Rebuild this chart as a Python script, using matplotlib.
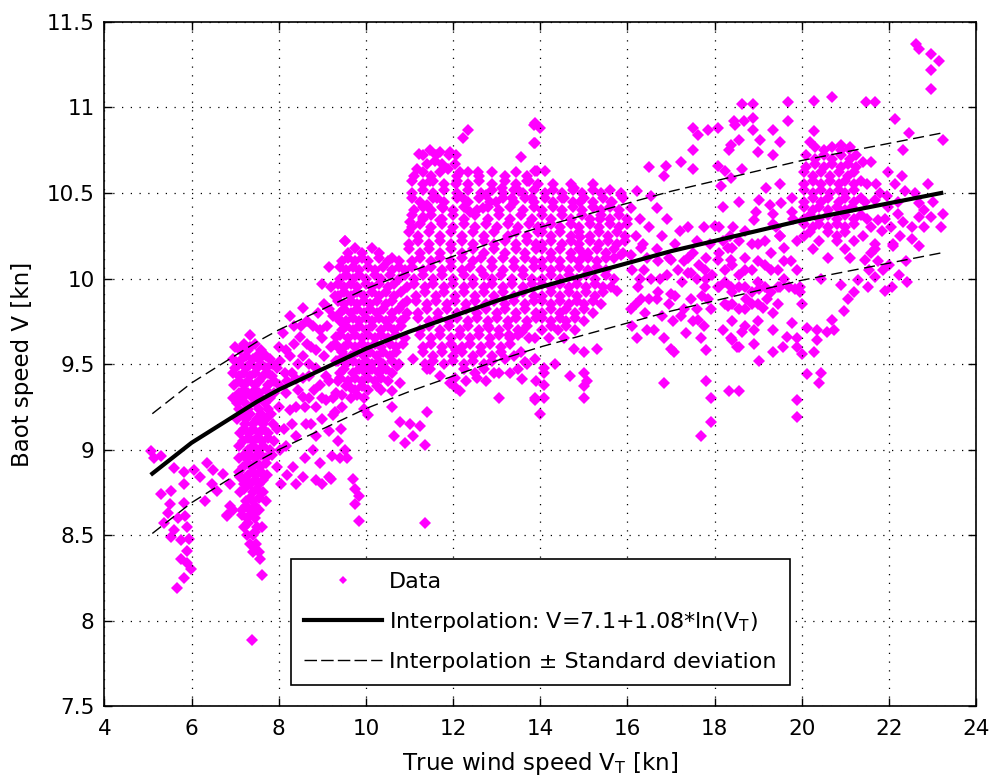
import matplotlib
matplotlib.use('Agg')
import matplotlib.pyplot as plt
from matplotlib.lines import Line2D

plt.rcParams['font.family'] = ['DejaVu Sans']
plt.rcParams['mathtext.fontset'] = 'dejavusans'

# ---------------- data ----------------
pts_low_wind = [
    (5.07, 8.99), (5.15, 8.95), (5.3, 8.96), (5.6, 8.89), (5.83, 8.87), (5.83, 8.80), (5.3, 8.74),
    (5.52, 8.76), (5.45, 8.63), (5.37, 8.57), (5.6, 8.53), (5.75, 8.47), (5.9, 8.41), (5.9, 8.34),
    (5.98, 8.30), (5.83, 8.25), (5.67, 8.19), (5.9, 8.55), (5.83, 8.69), (5.86, 8.61), (5.52, 8.49),
    (5.7, 8.6), (5.5, 8.68), (5.95, 8.48), (5.75, 8.36), (6.36, 8.92), (6.2, 8.84), (6.47, 8.80),
    (6.5, 8.88), (6.73, 8.86), (6.89, 8.80), (6.58, 8.76), (6.89, 8.67), (6.81, 8.61), (7.11, 8.84),
    (6.05, 8.88), (6.3, 8.7), (6.96, 8.65), (6.81, 8.62),
]
rows_7kn = [
    (9.67, [7.34]), (9.62, [7.2, 7.45]), (9.58, [7.11, 7.3, 7.6]),
    (9.53, [6.95, 7.15, 7.4, 7.55, 7.8]), (9.48, [7.0, 7.25, 7.5, 7.7, 7.95]),
    (9.43, [7.1, 7.34, 7.64, 7.85]), (9.38, [6.98, 7.2, 7.45, 7.75, 8.0]),
    (9.33, [7.08, 7.3, 7.55, 7.9]), (9.27, [7.04, 7.22, 7.45, 7.68]),
    (9.21, [7.15, 7.35, 7.6, 7.82]), (9.15, [7.23, 7.42, 7.64, 7.87]),
    (9.10, [7.12, 7.32, 7.55, 7.75]), (9.05, [7.19, 7.4, 7.62, 7.9]),
    (9.00, [7.3, 7.5, 7.8, 8.02]), (8.95, [7.1, 7.24, 7.45, 7.7]),
    (8.90, [7.19, 7.38, 7.58, 7.95]), (8.85, [7.3, 7.49, 7.72]), (8.80, [7.2, 7.34, 7.55]),
    (8.75, [7.11, 7.4, 7.64]), (8.70, [7.25, 7.42, 7.7]), (8.65, [7.15, 7.35, 7.55]),
    (8.60, [7.28, 7.45]), (8.55, [7.2, 7.5, 7.62]), (8.50, [7.27, 7.4]), (8.45, [7.35, 7.49]),
    (8.40, [7.42, 7.55]), (8.36, [7.57]), (8.27, [7.61]), (7.89, [7.38]),
    (9.60, [7.0, 7.35]), (9.55, [7.25, 7.5, 7.7]), (9.50, [7.1, 7.35, 7.6, 7.85]),
    (9.45, [6.95, 7.2, 7.45, 7.75]), (9.40, [7.1, 7.3, 7.55, 7.9]), (9.35, [7.2, 7.45, 7.7]),
    (9.30, [6.95, 7.15, 7.4, 7.6, 7.8]), (9.24, [7.1, 7.3, 7.55, 7.75]),
    (9.18, [7.05, 7.25, 7.5, 7.7]), (9.12, [7.2, 7.42, 7.65, 7.95]), (9.07, [7.3, 7.5, 7.75]),
    (9.02, [7.1, 7.4, 7.65]), (8.97, [7.2, 7.35, 7.6, 7.85]), (8.92, [7.3, 7.5, 7.7]),
    (8.87, [7.1, 7.4, 7.6]), (8.82, [7.25, 7.45, 7.65]), (8.77, [7.2, 7.5]), (8.72, [7.35, 7.55]),
    (8.67, [7.25, 7.45]), (8.62, [7.15, 7.4]), (8.57, [7.3]), (8.52, [7.45]),
]
pts_8_9kn = [
    (8.4, 8.8), (8.55, 8.84), (8.86, 8.82), (9.0, 8.8), (9.16, 8.84), (8.78, 9.0), (8.86, 9.08),
    (8.33, 8.9), (8.17, 9.02), (8.4, 9.08), (8.63, 9.15), (8.25, 9.23), (8.55, 9.31), (8.86, 9.25),
    (9.08, 9.29), (9.31, 9.33), (8.4, 9.41), (8.7, 9.43), (9.08, 9.43), (8.17, 9.58), (8.48, 9.66),
    (8.78, 9.72), (9.16, 9.82), (9.0, 9.97), (9.16, 10.07), (8.55, 9.83), (8.25, 9.78), (8.86, 9.58),
    (9.31, 9.66), (9.31, 9.52), (8.7, 9.5), (9.16, 9.11), (9.23, 8.96), (8.17, 9.33), (8.02, 9.52),
    (8.1, 9.68), (8.3, 9.45), (8.55, 9.55), (8.95, 9.38), (9.2, 9.6), (8.35, 9.62), (8.65, 9.62),
    (9.0, 9.65), (8.9, 9.8), (9.3, 9.9), (9.1, 9.72), (8.45, 9.5), (8.8, 9.35), (9.0, 9.18),
    (9.25, 9.2), (8.6, 9.25), (8.3, 9.15), (8.0, 9.25), (8.12, 9.12), (8.5, 9.72), (9.4, 9.75),
    (9.4, 9.45), (8.75, 9.15), (9.35, 9.05), (8.95, 8.92), (8.6, 8.95), (8.2, 8.85), (8.05, 8.8),
    (9.4, 8.95), (9.25, 9.3), (9.3, 9.22), (9.35, 9.4), (9.45, 9.25), (9.5, 9.55),
    (8.15, 9.45), (8.45, 9.35), (8.75, 9.6), (9.05, 9.55), (8.35, 9.72), (8.65, 9.75), (8.95, 9.7),
    (9.25, 9.78), (8.25, 9.55), (8.55, 9.42), (8.85, 9.48), (9.15, 9.4), (9.35, 9.6), (9.2, 9.95),
    (9.05, 9.85), (8.4, 9.25), (8.7, 9.3), (9.0, 9.3), (8.2, 9.4), (8.0, 9.6),
]
rows_10kn = [
    (10.22, [9.51]), (10.15, [9.6, 9.9, 10.3]), (10.10, [9.45, 9.75, 10.05, 10.5, 10.75]),
    (10.05, [9.55, 9.85, 10.2, 10.6, 10.9]), (10.00, [9.4, 9.7, 10.0, 10.35, 10.75]),
    (9.95, [9.5, 9.8, 10.15, 10.5, 10.95]), (9.90, [9.35, 9.65, 9.95, 10.3, 10.65]),
    (9.85, [9.5, 9.8, 10.1, 10.45, 10.85]), (9.80, [9.4, 9.65, 9.95, 10.25, 10.6, 10.95]),
    (9.75, [9.55, 9.85, 10.15, 10.45, 10.8]), (9.70, [9.45, 9.7, 10.0, 10.35, 10.65]),
    (9.65, [9.6, 9.9, 10.2, 10.5, 10.9]), (9.60, [9.5, 9.75, 10.05, 10.35, 10.7]),
    (9.55, [9.65, 9.95, 10.25, 10.55]), (9.50, [9.55, 9.85, 10.15, 10.4, 10.75]),
    (9.45, [9.7, 10.0, 10.3, 10.6]), (9.40, [9.6, 9.9, 10.2, 10.5]),
    (9.35, [9.75, 10.05, 10.35]), (9.30, [9.65, 9.95]),
    (10.18, [9.75, 10.15]), (10.12, [9.6, 9.9, 10.3, 10.6]), (10.07, [9.4, 9.7, 10.05, 10.4, 10.75]),
    (10.02, [9.55, 9.85, 10.2, 10.55, 10.9]), (9.97, [9.35, 9.65, 10.0, 10.3, 10.65]),
    (9.92, [9.5, 9.8, 10.15, 10.45, 10.8]), (9.87, [9.35, 9.65, 9.95, 10.25, 10.6, 10.95]),
    (9.82, [9.5, 9.8, 10.1, 10.4, 10.75]), (9.77, [9.35, 9.7, 10.0, 10.3, 10.6, 10.9]),
    (9.72, [9.55, 9.85, 10.15, 10.5, 10.8]), (9.67, [9.4, 9.75, 10.05, 10.35, 10.7]),
    (9.62, [9.3, 9.6, 9.9, 10.2, 10.55, 10.85]), (9.57, [9.45, 9.8, 10.1, 10.4, 10.7]),
    (9.52, [9.35, 9.7, 10.0, 10.3, 10.6]), (9.47, [9.5, 9.85, 10.15, 10.45]),
    (9.42, [9.4, 9.75, 10.05, 10.35]), (9.37, [9.55, 9.9, 10.25]), (9.32, [9.45, 9.8]),
]
pts_10_14kn = [
    (9.53, 9.0), (9.57, 8.95), (9.2, 8.83), (9.7, 8.83), (9.74, 8.77), (9.85, 8.73), (9.74, 8.68),
    (9.85, 8.58), (11.36, 8.57), (9.43, 9.12), (9.96, 9.24), (10.04, 9.2), (10.6, 9.25),
    (10.64, 9.08), (10.79, 9.16), (11.02, 9.15), (11.25, 9.14), (11.4, 9.22), (11.09, 9.08),
    (10.9, 9.04), (11.36, 9.03), (10.6, 9.34), (10.79, 9.39), (10.34, 9.47), (9.66, 9.36),
    (9.96, 9.49), (10.72, 9.49), (11.09, 9.53), (11.47, 9.47), (11.7, 9.43), (12.07, 9.36),
    (12.15, 9.34), (11.92, 9.39), (12.07, 9.58), (13.06, 9.3), (13.06, 9.45), (13.2, 9.53),
    (13.59, 9.41), (13.66, 9.51), (13.89, 9.29), (12.83, 9.71), (13.28, 9.67), (13.58, 9.69),
    (13.89, 9.65),
    (12.34, 10.87), (12.23, 10.82), (13.85, 10.9), (13.85, 10.79), (11.21, 10.73), (11.47, 10.75),
    (11.7, 10.74), (11.92, 10.74), (12.07, 10.72), (11.58, 10.69), (11.17, 10.64), (11.88, 10.64),
    (12.15, 10.62), (12.57, 10.62), (13.55, 10.71), (13.89, 10.63), (11.47, 10.57), (11.62, 10.47),
    (11.4, 10.43), (11.77, 10.41), (12.07, 10.55), (12.23, 10.47), (12.75, 10.49), (13.13, 10.53),
    (13.51, 10.51), (13.74, 10.57), (11.02, 10.33), (9.51, 10.22), (11.32, 10.36), (11.7, 10.34),
    (12.38, 10.39), (12.68, 10.41), (12.98, 10.45), (13.36, 10.47), (13.81, 10.47),
]
rows_12kn = [
    (10.60, [11.1, 11.5, 12.1, 12.6, 13.2, 13.7]), (10.55, [11.3, 11.8, 12.35, 12.9, 13.45, 13.95]),
    (10.50, [11.05, 11.55, 12.1, 12.65, 13.15, 13.6]), (10.45, [11.25, 11.8, 12.35, 12.85, 13.4, 13.85]),
    (10.40, [11.1, 11.5, 12.0, 12.55, 13.05, 13.6]), (10.35, [11.3, 11.75, 12.25, 12.8, 13.3, 13.8]),
    (10.30, [11.05, 11.5, 12.0, 12.5, 13.0, 13.5, 13.95]), (10.25, [11.2, 11.7, 12.2, 12.7, 13.25, 13.7]),
    (10.20, [11.0, 11.45, 11.95, 12.45, 12.95, 13.45, 13.9]), (10.15, [11.25, 11.7, 12.2, 12.7, 13.2, 13.65]),
    (10.10, [11.05, 11.5, 11.95, 12.45, 12.9, 13.4, 13.85]), (10.05, [11.3, 11.75, 12.2, 12.65, 13.15, 13.6]),
    (10.00, [11.1, 11.55, 12.0, 12.45, 12.9, 13.35, 13.8]), (9.95, [11.35, 11.8, 12.25, 12.7, 13.15, 13.6]),
    (9.90, [11.15, 11.6, 12.05, 12.5, 12.95, 13.4, 13.85]), (9.85, [11.4, 11.85, 12.3, 12.75, 13.2, 13.65]),
    (9.80, [11.2, 11.65, 12.1, 12.55, 13.0, 13.45, 13.9]), (9.75, [11.45, 11.9, 12.35, 12.8, 13.25, 13.7]),
    (9.70, [11.25, 11.7, 12.15, 12.6, 13.05, 13.5]), (9.65, [11.5, 11.95, 12.4, 12.85, 13.3, 13.75]),
    (9.60, [11.3, 11.75, 12.2, 12.65, 13.1]), (9.55, [11.55, 12.0, 12.45, 12.9, 13.4]),
    (9.50, [11.35, 11.8, 12.25, 12.7, 13.7]), (9.45, [12.5, 12.95, 13.3]), (9.40, [12.3, 12.75, 13.9]),
    (10.72, [11.3, 11.6, 11.9]), (10.67, [11.4, 11.75, 12.05]),
    (10.62, [11.3, 11.7, 12.35, 12.9, 13.45]), (10.57, [11.05, 11.55, 12.1, 12.6, 13.2, 13.7]),
    (10.52, [11.3, 11.8, 12.35, 12.9, 13.4, 13.85]), (10.47, [11.05, 11.55, 12.1, 12.6, 13.15, 13.65]),
    (10.42, [11.3, 11.75, 12.25, 12.8, 13.3, 13.85]), (10.37, [11.05, 11.5, 12.0, 12.5, 13.05, 13.55]),
    (10.32, [11.25, 11.75, 12.25, 12.75, 13.25, 13.75]),
    (10.27, [11.0, 11.45, 11.95, 12.45, 12.95, 13.45, 13.95]),
    (10.22, [11.2, 11.7, 12.2, 12.7, 13.2, 13.7]),
    (10.17, [11.0, 11.45, 11.95, 12.45, 12.95, 13.45, 13.9]),
    (10.12, [11.25, 11.7, 12.2, 12.65, 13.15, 13.65]),
    (10.07, [11.05, 11.5, 11.95, 12.4, 12.9, 13.4, 13.85]),
    (10.02, [11.3, 11.75, 12.25, 12.7, 13.1, 13.6]),
    (9.97, [11.1, 11.55, 12.0, 12.45, 12.9, 13.35, 13.8]),
    (9.92, [11.35, 11.8, 12.25, 12.7, 13.15, 13.6]),
    (9.87, [11.15, 11.6, 12.05, 12.5, 12.95, 13.4, 13.85]),
    (9.82, [11.4, 11.85, 12.3, 12.75, 13.2, 13.65]),
    (9.77, [11.2, 11.65, 12.1, 12.55, 13.0, 13.45, 13.9]),
    (9.72, [11.45, 11.9, 12.35, 12.8, 13.25, 13.7]), (9.67, [11.25, 11.7, 12.15, 12.6, 13.05, 13.5]),
    (9.62, [11.5, 11.95, 12.4, 12.85, 13.3]), (9.57, [11.3, 11.75, 12.2, 12.65, 13.1, 13.55]),
    (9.52, [11.55, 12.0, 12.45, 12.9]), (9.47, [11.4, 12.25, 12.7, 13.5]), (9.42, [12.05, 12.55]),
]
rows_15kn = [
    (10.55, [14.3, 14.7, 15.2]), (10.50, [14.1, 14.5, 14.95, 15.4, 15.85]),
    (10.45, [14.3, 14.75, 15.2, 15.65]), (10.40, [14.05, 14.5, 14.95, 15.4, 15.8]),
    (10.35, [14.25, 14.7, 15.15, 15.6, 16.0]), (10.30, [14.05, 14.45, 14.9, 15.35, 15.8]),
    (10.25, [14.25, 14.7, 15.15, 15.55, 15.95]), (10.20, [14.05, 14.5, 14.9, 15.35, 15.75]),
    (10.15, [14.25, 14.7, 15.1, 15.5, 15.9]), (10.10, [14.05, 14.45, 14.9, 15.3]),
    (10.05, [14.25, 14.65, 15.1, 15.5]), (10.00, [14.05, 14.45, 14.85, 15.25, 15.7]),
    (9.95, [14.25, 14.65, 15.05, 15.45]), (9.90, [14.05, 14.45, 14.85, 15.25]),
    (9.85, [14.25, 14.65, 15.0, 15.4]), (9.80, [14.05, 14.45, 14.8, 15.2]),
    (9.75, [14.25, 14.6, 15.0]), (9.70, [14.05, 14.4, 14.8]), (9.65, [14.2, 14.55]),
    (10.52, [14.3, 14.75, 15.2, 15.6]), (10.47, [14.1, 14.55, 15.0, 15.45, 15.9]),
    (10.42, [14.3, 14.75, 15.2, 15.6]), (10.37, [14.05, 14.5, 14.95, 15.4, 15.8]),
    (10.32, [14.25, 14.7, 15.15, 15.6, 16.0]), (10.27, [14.05, 14.45, 14.9, 15.35, 15.75]),
    (10.22, [14.25, 14.7, 15.15, 15.55, 15.95]), (10.17, [14.05, 14.45, 14.9, 15.3, 15.7]),
    (10.12, [14.25, 14.7, 15.1, 15.5]), (10.07, [14.05, 14.45, 14.9, 15.3]),
    (10.02, [14.25, 14.65, 15.05, 15.5]), (9.97, [14.05, 14.45, 14.85, 15.25]),
    (9.92, [14.25, 14.65, 15.05, 15.45]), (9.87, [14.05, 14.45, 14.85, 15.2]),
    (9.82, [14.25, 14.6, 15.0]), (9.77, [14.05, 14.45, 14.8]), (9.72, [14.25, 14.6]),
]
pts_14_18kn = [
    (13.88, 10.91), (14.0, 10.88), (13.88, 10.79), (14.12, 10.63), (13.92, 10.63), (14.5, 10.47),
    (14.77, 10.53), (14.92, 10.45), (16.5, 10.65), (16.88, 10.66), (17.23, 10.68), (17.5, 10.75),
    (17.5, 10.64), (16.85, 10.6), (17.5, 10.88), (17.62, 10.84), (17.85, 10.87), (18.08, 10.88),
    (18.46, 10.9), (18.38, 10.78), (18.08, 10.66), (18.23, 10.63), (18.15, 10.54), (16.23, 10.51),
    (16.54, 10.48), (16.69, 10.41), (16.08, 10.41), (15.62, 10.45), (15.85, 10.49), (14.92, 10.24),
    (15.0, 10.14), (15.38, 10.35), (16.31, 10.18), (16.69, 10.17), (16.08, 10.14), (16.38, 10.05),
    (17.0, 10.11), (17.38, 10.12), (17.77, 10.05), (17.46, 10.03), (18.0, 10.31), (18.19, 10.42),
    (18.42, 10.3), (18.31, 10.18), (18.08, 10.11), (18.38, 10.11), (15.69, 10.12), (15.85, 10.14),
    (15.62, 9.95), (15.77, 9.93), (16.31, 9.88), (16.08, 9.82), (16.69, 9.88), (17.0, 9.91),
    (17.38, 10.03), (17.77, 9.95), (18.08, 9.95), (18.38, 9.95), (17.92, 9.82), (17.23, 9.78),
    (17.62, 9.76), (18.31, 9.84),
    (13.88, 9.53), (14.08, 9.48), (14.08, 9.45), (14.35, 9.5), (14.08, 9.38), (13.88, 9.3),
    (14.08, 9.3), (14.0, 9.21), (14.69, 9.43), (15.0, 9.45), (15.08, 9.4), (15.0, 9.37), (15.0, 9.3),
    (16.23, 9.65), (16.85, 9.39), (16.85, 9.65), (17.0, 9.59), (17.08, 9.57), (17.8, 9.4),
    (17.92, 9.3), (17.92, 9.16), (17.69, 9.08), (18.57, 9.34), (17.8, 9.58), (18.38, 9.65),
    (17.69, 9.65), (15.31, 9.59), (14.77, 9.59), (15.0, 9.57),
    (16.2, 10.25), (16.5, 10.3), (16.8, 10.25), (17.2, 10.28), (17.6, 10.22), (17.9, 10.2),
    (16.35, 10.2), (16.7, 10.1), (17.1, 10.2), (17.5, 10.15), (17.8, 10.12), (16.1, 10.05),
    (16.55, 10.0), (16.9, 10.02), (17.25, 9.98), (17.6, 10.0), (17.95, 10.02), (16.25, 9.95),
    (16.7, 9.92), (17.1, 9.9), (17.45, 9.88), (17.85, 9.88), (16.4, 9.8), (16.8, 9.78),
    (17.6, 9.82), (16.1, 9.72), (16.6, 9.7), (17.35, 9.68), (17.75, 9.72),
    (16.3, 10.35), (16.9, 10.35), (17.4, 10.3), (17.75, 10.3), (16.45, 10.12), (16.95, 10.12),
    (17.3, 10.1), (17.65, 10.08), (16.3, 10.0), (16.75, 10.0), (17.15, 10.05), (17.8, 10.0),
    (16.5, 9.88), (16.95, 9.85), (17.3, 9.82), (17.7, 9.9), (16.2, 9.85), (16.45, 9.7),
    (17.05, 9.75), (17.5, 9.75),
]
pts_18_23kn = [
    (22.61, 11.37), (22.68, 11.34), (22.96, 11.31), (23.15, 11.27), (22.96, 11.22), (22.96, 11.11),
    (18.64, 11.02), (18.87, 11.02), (19.69, 11.03), (20.27, 11.04), (20.7, 11.06), (21.48, 11.03),
    (21.67, 11.03), (22.14, 10.93), (18.44, 10.92), (18.68, 10.92), (18.87, 10.94), (18.87, 10.87),
    (19.69, 10.92), (19.34, 10.87), (20.27, 10.86), (22.45, 10.85), (23.23, 10.81), (18.56, 10.81),
    (19.05, 10.81), (19.49, 10.8), (20.19, 10.8), (20.89, 10.78), (21.09, 10.76), (18.33, 10.75),
    (18.99, 10.74), (19.34, 10.72), (21.4, 10.68), (21.59, 10.68), (22.33, 10.75), (21.98, 10.62),
    (18.64, 10.64), (18.37, 10.59), (19.18, 10.53), (19.49, 10.55), (22.14, 10.55), (22.37, 10.51),
    (18.56, 10.45), (19.03, 10.46), (19.26, 10.43), (19.53, 10.44), (19.77, 10.47), (21.67, 10.46),
    (22.68, 10.44), (18.95, 10.39), (19.34, 10.38), (19.77, 10.39), (21.98, 10.42), (22.33, 10.33),
    (22.68, 10.36), (22.96, 10.36), (23.23, 10.38), (18.91, 10.34), (19.34, 10.32), (21.75, 10.34),
    (21.83, 10.28), (22.53, 10.3), (19.49, 10.25), (22.53, 10.23), (22.1, 10.2), (21.67, 10.2),
    (22.68, 10.19), (22.1, 10.19), (21.67, 10.17), (21.44, 10.11), (21.87, 10.05), (21.67, 10.01),
    (22.22, 10.02), (22.41, 9.98), (21.52, 9.95), (21.91, 9.93), (22.06, 9.95), (20.97, 9.81),
    (21.05, 9.88), (21.2, 9.92), (20.7, 9.76), (20.74, 9.7), (20.58, 9.69), (20.35, 9.7),
    (20.35, 9.64), (20.12, 9.71), (19.77, 9.74), (19.65, 9.66), (19.88, 9.65), (19.88, 9.6),
    (20.0, 9.56), (20.27, 9.57), (19.34, 9.57), (19.57, 9.6), (19.03, 9.52), (18.64, 9.69),
    (18.52, 9.6), (18.4, 9.64), (19.96, 9.92), (20.0, 9.85), (19.96, 9.95), (19.84, 9.94),
    (20.12, 9.44), (20.43, 9.45), (20.39, 9.39), (19.88, 9.29), (19.88, 9.19), (18.33, 9.34),
    (19.34, 9.8), (19.1, 9.83), (18.72, 9.88), (19.03, 9.94), (19.49, 9.95), (20.43, 10.0),
    (20.89, 9.96), (21.28, 9.99),
    (18.1, 10.15), (18.4, 10.18), (18.7, 10.12), (19.0, 10.2), (19.3, 10.15), (19.6, 10.18),
    (19.9, 10.22), (18.25, 10.05), (18.55, 10.02), (18.85, 10.05), (19.15, 10.08), (19.45, 10.05),
    (19.75, 10.1), (18.1, 9.95), (18.4, 9.92), (18.7, 9.95), (19.0, 9.98), (19.3, 9.92), (19.6, 10.0),
    (18.25, 9.85), (18.55, 9.82), (18.85, 9.85), (19.2, 9.88), (18.4, 9.75), (18.7, 9.72),
    (19.0, 9.75), (18.2, 9.7), (18.55, 9.6), (18.9, 9.62), (19.45, 9.85), (19.9, 10.05),
    (19.7, 9.95), (18.1, 10.3), (18.7, 10.28), (19.4, 10.3), (19.8, 10.35), (18.35, 10.25),
    (21.5, 10.35), (21.8, 10.5), (22.2, 10.45), (21.6, 10.15), (22.0, 10.08), (22.8, 10.4),
    (23.2, 10.3), (21.7, 10.55), (22.6, 10.5), (23.0, 10.45), (22.4, 10.1), (21.5, 10.55),
    (18.2, 10.22), (18.55, 10.22), (18.85, 10.2), (19.15, 10.22), (19.5, 10.25), (18.4, 10.08),
    (18.7, 10.05), (19.0, 10.1), (19.3, 10.05), (19.6, 10.1), (18.25, 9.98), (18.55, 9.95),
    (18.85, 9.92), (19.15, 9.95), (19.45, 9.95), (18.4, 9.85), (18.7, 9.82), (19.0, 9.85),
    (19.35, 9.7), (18.9, 9.7),
    (21.45, 10.45), (21.6, 10.3), (21.9, 10.35), (22.05, 10.3), (22.25, 10.25), (21.55, 10.05),
    (21.75, 10.1), (21.4, 10.25), (22.3, 10.6), (22.8, 10.3), (22.9, 10.55), (22.2, 10.38),
    (21.95, 10.48),
]
rows_20kn = [
    (10.77, [20.3, 20.7, 21.1]), (10.72, [20.1, 20.5, 20.9, 21.25]), (10.67, [20.3, 20.7, 21.05]),
    (10.62, [20.05, 20.45, 20.85, 21.2]), (10.57, [20.25, 20.65, 21.0, 21.35]),
    (10.52, [20.05, 20.45, 20.85, 21.2]), (10.47, [20.25, 20.6, 21.0, 21.35]),
    (10.42, [20.05, 20.4, 20.8, 21.15]), (10.37, [20.2, 20.6, 21.0, 21.35]),
    (10.32, [20.05, 20.4, 20.8, 21.2]), (10.27, [20.2, 20.6, 21.0]), (10.22, [20.4, 20.8, 21.2]),
    (10.17, [20.25, 21.0]), (10.12, [20.6, 21.1]),
    (10.75, [20.5, 20.9]), (10.70, [20.3, 20.7, 21.1]), (10.65, [20.1, 20.5, 20.9, 21.25]),
    (10.60, [20.25, 20.65, 21.05]), (10.55, [20.05, 20.45, 20.85, 21.2]),
    (10.50, [20.25, 20.65, 21.0]), (10.45, [20.05, 20.45, 20.85, 21.2]),
    (10.40, [20.25, 20.6, 21.0]), (10.35, [20.05, 20.4, 20.8, 21.2]),
    (10.30, [20.25, 20.6, 21.0]), (10.25, [20.05, 20.8]),
]

# fitted curve and +/- standard deviation, read along the wind-speed axis
curve_vt = [5.1, 5.5, 6, 6.5, 7, 7.5, 8, 9, 10, 11, 12, 13, 14, 15, 16, 17, 18, 19, 20, 21, 22, 23.2]
curve_v = [8.86, 8.94, 9.04, 9.12, 9.20, 9.28, 9.35, 9.47, 9.59, 9.69, 9.78, 9.87, 9.95, 10.02,
           10.09, 10.16, 10.22, 10.28, 10.34, 10.39, 10.44, 10.50]
upper_v = [9.21, 9.29, 9.39, 9.47, 9.55, 9.63, 9.70, 9.82, 9.94, 10.04, 10.13, 10.22, 10.30, 10.37,
           10.44, 10.51, 10.57, 10.63, 10.69, 10.74, 10.79, 10.85]
lower_v = [8.51, 8.59, 8.69, 8.77, 8.85, 8.93, 9.00, 9.12, 9.24, 9.34, 9.43, 9.52, 9.60, 9.67,
           9.74, 9.81, 9.87, 9.93, 9.99, 10.04, 10.09, 10.15]

x_ticks = [4, 6, 8, 10, 12, 14, 16, 18, 20, 22, 24]
y_ticks = [7.5, 8, 8.5, 9, 9.5, 10, 10.5, 11, 11.5]
legend_labels = ['Data', r'Interpolation: V=7.1+1.08*ln(V$_{\mathrm{T}}$)',
                 'Interpolation \u00b1 Standard deviation']

# ---------------- assemble points ----------------
wind, boat = [], []
for group in (pts_low_wind, pts_8_9kn, pts_10_14kn, pts_14_18kn, pts_18_23kn):
    for x, y in group:
        wind.append(x)
        boat.append(y)
for rows in (rows_7kn, rows_10kn, rows_12kn, rows_15kn, rows_20kn):
    for y, xs in rows:
        for x in xs:
            wind.append(x)
            boat.append(y)

# ---------------- figure ----------------
FS = 15.5
fig = plt.figure(figsize=(9.94, 7.83), dpi=100)
ax = fig.add_axes([0.105, 0.098, 0.877, 0.874])

MAG = '#ff00ff'
ax.plot(wind, boat, ls='none', marker='D', ms=6.4, mew=0, color=MAG, zorder=2)
ax.plot(curve_vt, curve_v, color='black', lw=3.0, zorder=3)
ax.plot(curve_vt, upper_v, color='black', lw=1.0, dashes=(8, 4), zorder=3)
ax.plot(curve_vt, lower_v, color='black', lw=1.0, dashes=(8, 4), zorder=3)

ax.set_xlim(4, 24)
ax.set_ylim(7.5, 11.5)
ax.set_xticks(x_ticks)
ax.set_yticks(y_ticks)
ax.set_xticklabels([str(t) for t in x_ticks])
ax.set_yticklabels([('%g' % t) for t in y_ticks])
ax.set_axisbelow(False)
ax.grid(True, color='black', linestyle=(0, (1, 6)), linewidth=0.9)
ax.tick_params(direction='in', length=6, width=1, top=True, right=True, labelsize=FS)
ax.tick_params(axis='x', pad=9)
ax.tick_params(axis='y', pad=7)
for s in ax.spines.values():
    s.set_linewidth(1.2)

ax.set_xlabel(r'True wind speed V$_{\mathrm{T}}$ [kn]', fontsize=16.5, labelpad=8)
ax.set_ylabel('Baot speed V [kn]', fontsize=16.5, labelpad=9)

handles = [
    Line2D([], [], ls='none', marker='D', ms=3.8, mew=0, color=MAG),
    Line2D([], [], color='black', lw=3.0),
    Line2D([], [], color='black', lw=1.0, dashes=(9, 3)),
]
leg = ax.legend(handles, legend_labels, loc='lower center', bbox_to_anchor=(0.5, 0.031),
                fontsize=16, frameon=True, fancybox=False, edgecolor='black', framealpha=1,
                handlelength=3.5, handletextpad=0.3, labelspacing=0.8, borderpad=0.6,
                borderaxespad=0)
leg.get_frame().set_linewidth(1.2)
leg.set_zorder(5)

fig.savefig('out.png', dpi=100)
